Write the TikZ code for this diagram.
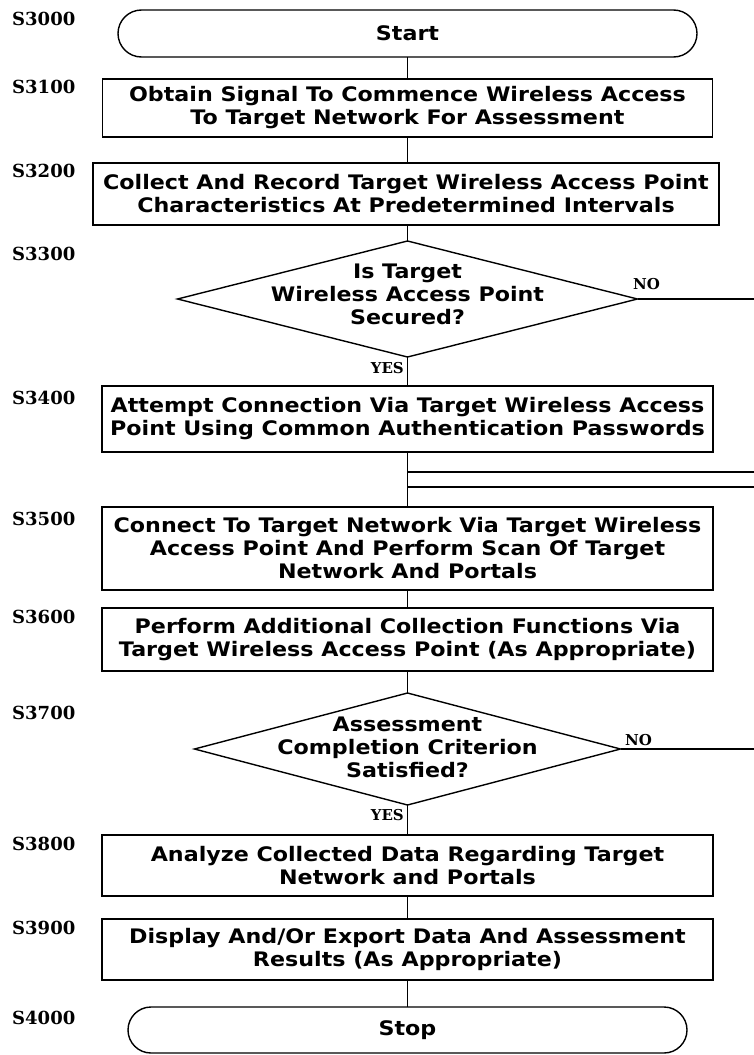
\documentclass[tikz,border=0pt]{standalone}
\usepackage{fontspec}
\setmainfont{DejaVu Sans}[FakeStretch=1.11]
\newfontfamily\labfont{DejaVu Serif}
\usetikzlibrary{shapes.geometric,shapes.misc}
\tikzset{
  boxtext/.style={font=\fontsize{20}{23}\selectfont\bfseries},
  stepbox/.style={draw, line width=1.6pt, inner sep=0pt, outer sep=0pt, align=center, boxtext, rectangle},
  term/.style={draw, line width=1.4pt, inner sep=0pt, outer sep=0pt, rounded rectangle, boxtext},
  dia/.style={draw, line width=1.4pt, inner sep=0pt, outer sep=0pt, diamond},
  diatext/.style={inner sep=0pt, align=center, boxtext},
  steplab/.style={anchor=west, inner sep=0pt, font=\labfont\fontsize{18}{20}\selectfont\bfseries},
  yn/.style={inner sep=0pt, font=\labfont\fontsize{15}{17}\selectfont\bfseries},
  conn/.style={line width=1.3pt}
}
\begin{document}
\begin{tikzpicture}[x=1pt,y=-1pt]
\useasboundingbox (0,0) rectangle (754,1055);
% step labels
\node[steplab] (l3000) at (12,19) {S3000};
\node[steplab] (l3100) at (12,87) {S3100};
\node[steplab] (l3200) at (12,171) {S3200};
\node[steplab] (l3300) at (12,254) {S3300};
\node[steplab] (l3400) at (12,398) {S3400};
\node[steplab] (l3500) at (12,519) {S3500};
\node[steplab] (l3600) at (12,617) {S3600};
\node[steplab] (l3700) at (12,713) {S3700};
\node[steplab] (l3800) at (12,844) {S3800};
\node[steplab] (l3900) at (12,928) {S3900};
\node[steplab] (l4000) at (12,1018) {S4000};
% nodes
\node[term, minimum width=579pt, minimum height=47pt] (start) at (407.5,33.5) {Start};
\node[stepbox, minimum width=610pt, minimum height=58pt] (b1) at (407.5,108) {Obtain Signal To Commence Wireless Access\\To Target Network For Assessment};
\node[stepbox, minimum width=626pt, minimum height=62pt] (b2) at (406,194) {Collect And Record Target Wireless Access Point\\Characteristics At Predetermined Intervals};
\node[dia, minimum width=460pt, minimum height=116pt] (d1) at (407.5,299) {};
\node[diatext] (d1t) at (407.5,294) {Is Target\\Wireless Access Point\\Secured?};
\node[stepbox, minimum width=611pt, minimum height=66pt] (b4) at (407.5,419) {Attempt Connection Via Target Wireless Access\\Point Using Common Authentication Passwords};
\node[stepbox, minimum width=611pt, minimum height=83pt] (b5) at (407.5,548.5) {Connect To Target Network Via Target Wireless\\Access Point And Perform Scan Of Target\\Network And Portals};
\node[stepbox, minimum width=611pt, minimum height=63pt] (b6) at (407.5,639.5) {Perform Additional Collection Functions Via\\Target Wireless Access Point (As Appropriate)};
\node[dia, minimum width=426pt, minimum height=112pt] (d2) at (407.5,749) {};
\node[diatext] (d2t) at (407.5,747) {Assessment\\Completion Criterion\\Satisfied?};
\node[stepbox, minimum width=611pt, minimum height=61pt] (b8) at (407.5,865.5) {Analyze Collected Data Regarding Target\\Network and Portals};
\node[stepbox, minimum width=611pt, minimum height=61pt] (b9) at (407.5,949.5) {Display And/Or Export Data And Assessment\\Results (As Appropriate)};
\node[term, minimum width=559pt, minimum height=46pt] (stop) at (407.5,1030) {Stop};
% yes / no labels
\node[yn, anchor=west] (no1) at (633,284) {NO};
\node[yn, anchor=east] (yes1) at (404,368) {YES};
\node[yn, anchor=west] (no2) at (625,740) {NO};
\node[yn, anchor=east] (yes2) at (404,815) {YES};
% free ends
\coordinate (n1) at (754,299);
\coordinate (n2) at (754,749);
\coordinate (j1) at (407.5,472);
\coordinate (e1) at (754,472);
\coordinate (j2) at (407.5,487);
\coordinate (e2) at (754,487);
% connectors
\draw[conn] (start.south) -- (start.south |- b1.north);
\draw[conn] (b1.south) -- (b1.south |- b2.north);
\draw[conn] (b1.south |- b2.south) -- (d1.north);
\draw[conn] (d1.south) -- (b4.north);
\draw[conn] (d1.east) -- (n1);
\draw[conn] (b4.south) -- (b5.north);
\draw[conn] (j1) -- (e1);
\draw[conn] (j2) -- (e2);
\draw[conn] (b5.south) -- (b6.north);
\draw[conn] (b6.south) -- (d2.north);
\draw[conn] (d2.east) -- (n2);
\draw[conn] (d2.south) -- (b8.north);
\draw[conn] (b8.south) -- (b9.north);
\draw[conn] (b9.south) -- (stop.north);
\end{tikzpicture}
\end{document}
